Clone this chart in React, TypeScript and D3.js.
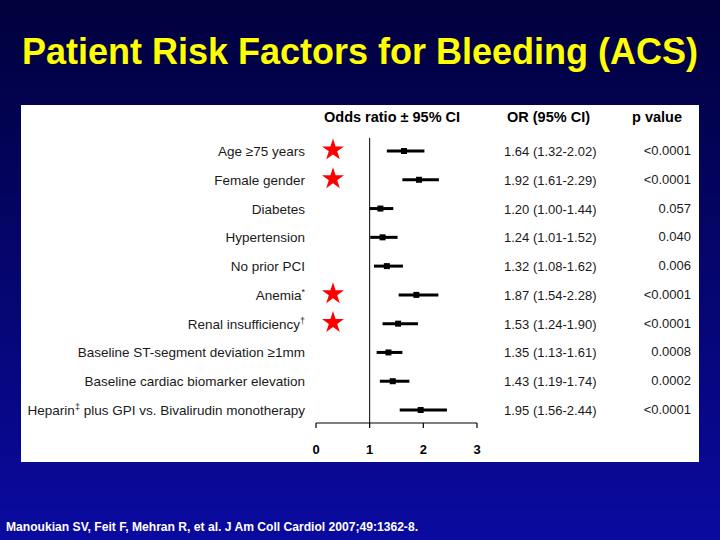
import * as d3 from 'd3';
import React from 'react';

const factors = [
    'Age ≥75 years',
    'Female gender',
    'Diabetes',
    'Hypertension',
    'No prior PCI',
    'Anemia',
    'Renal insufficiency',
    'Baseline ST-segment deviation ≥1mm',
    'Baseline cardiac biomarker elevation',
    'Heparin',
];
// superscript marks and trailing text of each label
const marks = ['', '', '', '', '', '*', '†', '', '', '‡'];
const tails = ['', '', '', '', '', '', '', '', '', ' plus GPI vs. Bivalirudin monotherapy'];
const oddsRatios = [1.64, 1.92, 1.20, 1.24, 1.32, 1.87, 1.53, 1.35, 1.43, 1.95];
const ciLow = [1.32, 1.61, 1.00, 1.01, 1.08, 1.54, 1.24, 1.13, 1.19, 1.56];
const ciHigh = [2.02, 2.29, 1.44, 1.52, 1.62, 2.28, 1.90, 1.61, 1.74, 2.44];
const pValues = ['<0.0001', '<0.0001', '0.057', '0.040', '0.006', '<0.0001', '<0.0001', '0.0008', '0.0002', '<0.0001'];
const starred = [true, true, false, false, false, true, true, false, false, false];
const xTicks = [0, 1, 2, 3];

const W = 720;
const H = 540;
const font = 'Arial, "Liberation Sans", Helvetica, sans-serif';

const App = () => {
    const x = d3.scaleLinear().domain([0, 3]).range([316, 477]);
    const y = d3.scalePoint<number>().domain(d3.range(factors.length)).range([151, 410]);
    const star = d3.symbol().type(d3.symbolStar).size(150)() || '';
    const fmt = d3.format('.2f');
    const axisY = 423;

    return (
        <svg width={W} height={H} style={{ position: 'absolute', left: 0, top: 0, display: 'block' }}>
            <defs>
                <linearGradient id="bg" x1="0" y1="0" x2="0" y2="1">
                    <stop offset="0" stopColor="#00003c" />
                    <stop offset="1" stopColor="#0a0aa0" />
                </linearGradient>
            </defs>
            <rect width={W} height={H} fill="url(#bg)" />
            <text x={W / 2} y={64} textAnchor="middle" fill="#ffff00" fontFamily={font}
                fontWeight="bold" fontSize={36}>Patient Risk Factors for Bleeding (ACS)</text>

            <rect x={21} y={105} width={678} height={357} fill="#ffffff" />

            {/* headers */}
            <g fontFamily={font} fontWeight="bold" fontSize={14.5} fill="#000">
                <text x={324} y={122}>Odds ratio ± 95% CI</text>
                <text x={507} y={122}>OR (95% CI)</text>
                <text x={632} y={122}>p value</text>
            </g>

            {/* reference line at OR = 1 */}
            <line x1={x(1)} x2={x(1)} y1={138} y2={axisY} stroke="#000" strokeWidth={1} />

            {/* axis */}
            <line x1={x(0)} x2={x(3)} y1={axisY} y2={axisY} stroke="#000" strokeWidth={1.2} />
            {xTicks.map(t => (
                <g key={t}>
                    <line x1={x(t)} x2={x(t)} y1={axisY} y2={axisY + 5} stroke="#000" strokeWidth={1.2} />
                    <text x={x(t)} y={454} textAnchor="middle" fontFamily={font} fontWeight="bold"
                        fontSize={13}>{t}</text>
                </g>
            ))}

            {factors.map((f, i) => {
                const yy = y(i) as number;
                return (
                    <g key={f}>
                        <text x={305} y={yy + 5} textAnchor="end" fontFamily={font} fontSize={13.5}
                            fill="#1a1a1a">
                            {f}
                            {marks[i] && <tspan fontSize={9} dy={-5}>{marks[i]}</tspan>}
                            {tails[i] && <tspan dy={5}>{tails[i]}</tspan>}
                        </text>
                        {starred[i] && <path d={star} transform={`translate(333,${yy - 1})`} fill="#ff0000" />}
                        <line x1={x(ciLow[i])} x2={x(ciHigh[i])} y1={yy} y2={yy} stroke="#000" strokeWidth={3} />
                        <rect x={x(oddsRatios[i]) - 3} y={yy - 3} width={6} height={6} fill="#000" />
                        <text x={504} y={yy + 5} fontFamily={font} fontSize={13} fill="#1a1a1a">
                            {`${fmt(oddsRatios[i])} (${fmt(ciLow[i])}-${fmt(ciHigh[i])})`}
                        </text>
                        <text x={691} y={yy + 4} textAnchor="end" fontFamily={font} fontSize={13}
                            fill="#1a1a1a">{pValues[i]}</text>
                    </g>
                );
            })}

            <text x={6} y={531} fill="#fff" fontFamily={font} fontWeight="bold" fontSize={12}
                textLength={412} lengthAdjust="spacingAndGlyphs">
                Manoukian SV, Feit F, Mehran R, et al. J Am Coll Cardiol 2007;49:1362-8.
            </text>
        </svg>
    );
};

export default App;
